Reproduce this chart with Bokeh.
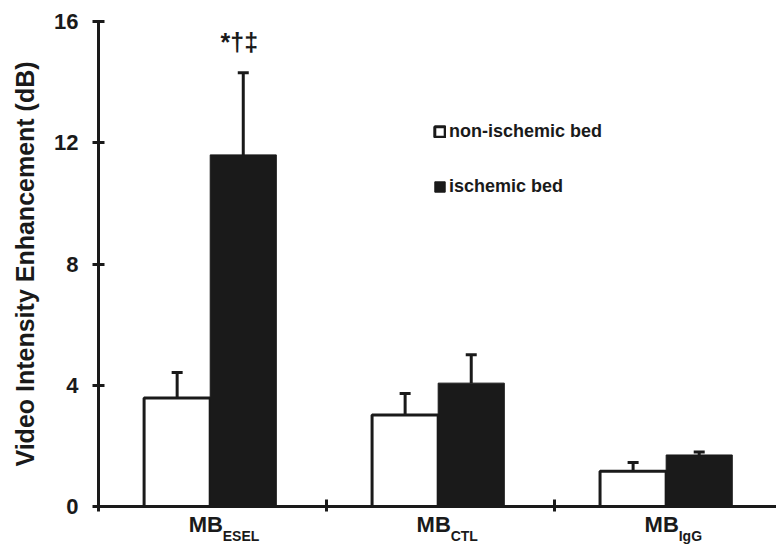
from bokeh.plotting import figure
from bokeh.models import (Range1d, FixedTicker, ColumnDataSource, Whisker, TeeHead,
                          Label, Legend, LegendItem, LinearAxis)
from bokeh.embed import file_html
from bokeh.resources import INLINE

# ---- data ----
categories = ["ESEL", "CTL", "IgG"]
non_ischemic = [3.58, 3.02, 1.16]
non_ischemic_err = [0.84, 0.71, 0.29]
ischemic = [11.6, 4.07, 1.70]
ischemic_err = [2.71, 0.94, 0.10]
y_ticks = [0, 4, 8, 12, 16]
legend_labels = ["non-ischemic bed", "ischemic bed"]
annotation = "*\u2020\u2021"

FONT = "Liberation Sans"
INK = "#1a1a1a"
BAR_W = 0.29
OFFSET = 0.49
PX = 1 / 228.0  # data units per pixel along x

centers = [i + OFFSET for i in range(len(categories))]
x_white = [c - BAR_W / 2 for c in centers]
x_black = [c + BAR_W / 2 for c in centers]

src_w = ColumnDataSource(dict(x=x_white, top=non_ischemic,
                              upper=[v + e for v, e in zip(non_ischemic, non_ischemic_err)]))
src_b = ColumnDataSource(dict(x=x_black, top=ischemic,
                              upper=[v + e for v, e in zip(ischemic, ischemic_err)]))

p = figure(width=776, height=553, output_backend="svg", toolbar_location=None,
           x_range=Range1d(0, 2.974), y_range=Range1d(0, 16),
           min_border_left=98, min_border_right=0, min_border_top=21, min_border_bottom=47)
p.outline_line_color = None
p.xgrid.visible = False
p.ygrid.visible = False

# whiskers
for src in (src_w, src_b):
    w = Whisker(source=src, base="x", lower="top", upper="upper", dimension="height",
                line_color=INK, line_width=3,
                upper_head=TeeHead(size=11, line_color=INK, line_width=3), lower_head=None)
    p.add_layout(w)

r_w = p.vbar(x="x", top="top", width=BAR_W, bottom=0, source=src_w,
             fill_color="white", line_color=INK, line_width=3)
r_b = p.vbar(x="x", top="top", width=BAR_W, bottom=0, source=src_b,
             fill_color=INK, line_color=INK, line_width=1)

# main x axis (category separators)
xa = p.xaxis[0]
xa.ticker = FixedTicker(ticks=[0, 1, 2, 3])
xa.major_label_overrides = {0: "", 1: "", 2: "", 3: ""}
xa.major_label_text_font_size = "1px"
xa.major_label_standoff = 0
xa.axis_line_width = 3
xa.axis_line_color = INK
xa.major_tick_line_width = 3
xa.major_tick_line_color = INK
xa.major_tick_in = 7
xa.major_tick_out = 5
xa.minor_tick_line_color = None

# category labels: "MB" + subscript, as two label-only axes
sub_half = {"ESEL": 18.3, "CTL": 13.6, "IgG": 11.7}
split = [i + 0.545 for i in range(len(categories))]
mb_ticks = [s - 17 * PX for s in split]
sub_ticks = [s + sub_half[c] * PX for s, c in zip(split, categories)]


def label_axis(ticks, texts, size, standoff):
    ax = LinearAxis(ticker=FixedTicker(ticks=ticks),
                    major_label_overrides={t: s for t, s in zip(ticks, texts)})
    ax.axis_line_color = None
    ax.major_tick_line_color = None
    ax.minor_tick_line_color = None
    ax.major_tick_in = 0
    ax.major_tick_out = 0
    ax.major_label_standoff = standoff
    ax.major_label_text_font = FONT
    ax.major_label_text_font_style = "bold"
    ax.major_label_text_font_size = size
    ax.major_label_text_color = INK
    return ax


p.add_layout(label_axis(mb_ticks, ["MB"] * 3, "22px", 0), "below")
p.add_layout(label_axis(sub_ticks, categories, "14px", -12), "below")

ya = p.yaxis[0]
ya.ticker = FixedTicker(ticks=y_ticks)
ya.axis_line_width = 3
ya.axis_line_color = INK
ya.major_tick_line_width = 3
ya.major_tick_line_color = INK
ya.major_tick_in = 6
ya.major_tick_out = 6
ya.minor_tick_line_color = None
ya.major_label_text_font = FONT
ya.major_label_text_font_style = "bold"
ya.major_label_text_font_size = "22px"
ya.major_label_text_color = INK
ya.major_label_standoff = 14
ya.axis_label = "Video Intensity Enhancement (dB)"
ya.axis_label_text_font = FONT
ya.axis_label_text_font_style = "bold"
ya.axis_label_text_font_size = "25px"
ya.axis_label_text_color = INK
ya.axis_label_standoff = 12

# significance annotation
p.add_layout(Label(x=x_black[0] - 4 * PX, y=15.33, text=annotation, text_align="center",
                   text_baseline="middle", text_font=FONT, text_font_style="bold",
                   text_font_size="25px", text_color=INK))

legend = Legend(items=[LegendItem(label=legend_labels[0], renderers=[r_w]),
                       LegendItem(label=legend_labels[1], renderers=[r_b])],
                location=(335, 309), border_line_color=None, background_fill_alpha=0,
                glyph_width=13, glyph_height=13, label_standoff=3, spacing=34,
                label_text_font=FONT, label_text_font_style="bold",
                label_text_font_size="18px", label_text_color=INK, padding=0, margin=0)
p.add_layout(legend)

open("out.html", "w").write(file_html(p, INLINE))
